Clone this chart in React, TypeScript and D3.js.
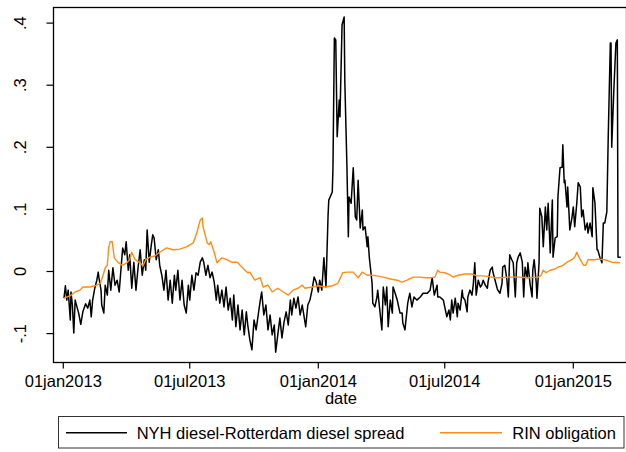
import React from "react";
import * as d3 from "d3";

// Days since 01jan2013 and values
const spreadDays = [1,3,5,7,10,11,13,15,17,20,22,25,28,32,35,38,40,42,45,48,50,51,54,55,58,60,63,65,68,71,74,77,80,83,85,88,90,93,95,98,101,104,107,110,113,116,118,120,123,126,128,130,133,136,138,141,144,147,150,153,156,159,161,164,167,170,173,176,179,181,184,187,190,193,196,199,201,204,207,210,213,216,219,221,224,227,230,233,236,239,242,244,247,250,253,256,259,262,264,267,270,273,276,279,282,284,287,290,293,296,299,302,304,307,310,313,316,319,322,325,327,330,333,336,339,342,345,347,350,353,356,359,362,365,367,370,373,376,379,380,385,386,388,390,392,395,396,399,402,403,406,408,409,412,415,418,420,422,425,428,429,432,435,436,438,442,443,446,449,450,453,456,458,461,463,465,468,471,472,475,478,482,485,486,489,492,493,496,499,502,506,511,515,521,525,528,531,535,536,539,544,546,549,552,554,556,558,561,564,565,568,571,572,575,578,579,582,585,587,589,591,594,597,599,601,604,607,608,611,614,615,618,621,622,625,628,629,632,635,637,639,642,644,647,649,651,654,657,659,661,664,665,668,671,672,674,677,678,681,682,685,687,690,692,694,697,700,701,704,707,708,711,714,715,717,718,721,722,725,728,730,732,735,737,740,742,744,747,750,751,754,757,758,761,764,765,768,771,773,775,778,780,783,784,785,788,791,793,794,798];
const spreadVals = [-0.043,-0.023,-0.046,-0.030,-0.078,-0.033,-0.054,-0.099,-0.046,-0.059,-0.067,-0.085,-0.065,-0.052,-0.059,-0.046,-0.073,-0.046,-0.027,-0.014,-0.001,-0.010,-0.030,-0.054,-0.067,-0.022,-0.038,0.002,-0.030,0.006,-0.022,-0.014,-0.033,0.010,0.038,0.027,0.048,0.002,0.027,-0.027,0.015,-0.030,0.006,0.035,-0.006,0.019,0.002,0.067,0.015,0.043,0.059,0.054,0.019,0.035,0.010,-0.006,-0.030,0.002,-0.046,-0.014,-0.051,-0.006,-0.030,0.002,-0.046,-0.014,-0.054,-0.067,-0.022,-0.046,-0.006,-0.030,-0.002,-0.006,0.015,0.022,0.015,-0.006,0.010,-0.010,-0.001,-0.017,-0.046,-0.022,-0.051,-0.030,-0.057,-0.025,-0.062,-0.043,-0.078,-0.038,-0.089,-0.054,-0.094,-0.062,-0.102,-0.065,-0.086,-0.110,-0.126,-0.078,-0.094,-0.070,-0.046,-0.033,-0.070,-0.054,-0.094,-0.070,-0.102,-0.086,-0.130,-0.102,-0.075,-0.107,-0.081,-0.065,-0.086,-0.046,-0.070,-0.043,-0.059,-0.041,-0.070,-0.054,-0.075,-0.089,-0.054,-0.046,-0.030,-0.009,-0.017,-0.033,-0.014,-0.030,0.022,-0.025,0.091,0.115,0.128,0.168,0.376,0.373,0.217,0.276,0.249,0.397,0.410,0.304,0.168,0.056,0.120,0.110,0.167,0.088,0.083,0.147,0.070,0.099,0.067,0.072,0.040,0.056,0.023,-0.019,-0.051,-0.057,-0.041,-0.030,-0.062,-0.094,-0.025,-0.054,-0.025,-0.089,-0.046,-0.067,-0.025,-0.035,-0.046,-0.067,-0.067,-0.083,-0.094,-0.062,-0.051,-0.035,-0.057,-0.041,-0.046,-0.041,-0.035,-0.035,-0.030,-0.010,-0.038,-0.022,-0.041,-0.041,-0.046,-0.057,-0.073,-0.062,-0.078,-0.046,-0.067,-0.043,-0.073,-0.051,-0.062,-0.030,-0.041,-0.046,-0.065,-0.041,-0.030,-0.038,-0.019,0.014,-0.038,-0.014,-0.025,-0.022,-0.014,-0.022,-0.027,-0.017,0.002,0.007,-0.001,-0.014,-0.027,-0.030,-0.035,-0.019,0.007,0.010,-0.014,-0.041,0.027,0.019,0.014,-0.041,0.014,0.023,0.030,0.015,-0.041,0.007,-0.010,0.014,-0.019,-0.041,0.002,0.019,-0.019,-0.043,0.014,0.102,0.088,0.040,0.104,0.067,0.110,0.030,0.115,0.023,0.054,0.056,0.120,0.167,0.168,0.204,0.143,0.147,0.104,0.136,0.067,0.086,0.104,0.072,0.110,0.143,0.136,0.088,0.099,0.067,0.078,0.062,0.078,0.056,0.135,0.110,0.035,0.035,0.023,0.014,0.078,0.078,0.096,0.217,0.368,0.368,0.200,0.292,0.368,0.373,0.023,0.023];

const rinDays = [1,10,17,24,28,38,45,53,57,60,63,65,67,70,73,78,84,91,95,98,103,110,114,118,124,131,138,148,157,167,177,186,191,196,199,200,206,209,211,216,220,227,234,241,249,256,260,264,267,274,282,286,293,299,307,315,322,329,336,342,346,356,365,375,385,393,398,400,406,415,422,428,435,442,449,458,468,478,485,492,501,511,518,525,532,536,539,546,554,558,565,575,585,592,601,614,618,628,637,651,665,680,684,687,691,697,704,708,714,721,728,732,735,738,742,745,748,751,757,761,765,775,785,797];
const rinVals = [-0.043,-0.039,-0.033,-0.030,-0.025,-0.025,-0.023,-0.019,-0.006,0.006,0.010,0.038,0.048,0.048,0.022,0.015,0.010,0.014,0.019,0.031,0.019,0.014,0.009,0.019,0.023,0.025,0.031,0.038,0.035,0.036,0.040,0.046,0.062,0.083,0.086,0.072,0.046,0.043,0.048,0.031,0.014,0.022,0.019,0.015,0.015,0.007,0.002,-0.002,-0.001,-0.014,-0.010,-0.025,-0.022,-0.033,-0.027,-0.033,-0.038,-0.030,-0.027,-0.022,-0.027,-0.025,-0.023,-0.025,-0.023,-0.019,-0.007,-0.002,-0.001,-0.001,-0.010,-0.001,-0.006,-0.006,-0.007,-0.009,-0.012,-0.014,-0.017,-0.014,-0.009,-0.009,-0.010,-0.010,-0.009,0.002,-0.001,-0.002,-0.006,-0.009,-0.006,-0.004,-0.004,-0.007,-0.007,-0.009,-0.010,-0.010,-0.009,-0.009,-0.010,-0.009,-0.006,0.002,-0.002,0.002,0.004,0.007,0.009,0.015,0.019,0.023,0.031,0.023,0.015,0.010,0.010,0.019,0.019,0.019,0.020,0.019,0.015,0.014];

const xTickDates = ["2013-01-01", "2013-07-01", "2014-01-01", "2014-07-01", "2015-01-01"];
const xTickLabels = ["01jan2013", "01jul2013", "01jan2014", "01jul2014", "01jan2015"];
const yTicks = [-0.1, 0, 0.1, 0.2, 0.3, 0.4];
const yTickLabels = ["-.1", "0", ".1", ".2", ".3", ".4"];
const seriesNames = ["NYH diesel-Rotterdam diesel spread", "RIN obligation"];

const W = 626, H = 452;
const FONT = "'Liberation Sans', Arial, Helvetica, sans-serif";
const ORANGE = "#ff8c17";

export default function App() {
  const base = new Date(Date.UTC(2013, 0, 1));
  const toDate = (d: number) => d3.utcDay.offset(base, d);
  const x = d3.scaleUtc()
    .domain([new Date(Date.UTC(2013, 0, 1)), new Date(Date.UTC(2015, 0, 1))])
    .range([63.3, 573.3]);
  const y = d3.scaleLinear().domain([0, 0.4]).range([271.5, 23.1]);

  const spread = spreadDays.map((d, i) => ({ t: toDate(d), v: spreadVals[i] }));
  const rin = rinDays.map((d, i) => ({ t: toDate(d), v: rinVals[i] }));
  const line = d3.line<{ t: Date; v: number }>().x(p => x(p.t)).y(p => y(p.v));

  const left = 53.5, top = 7.5, bottom = 362.5, right = 626.5;

  return (
    <svg width={W} height={H} style={{ position: "absolute", left: 0, top: 0, background: "#fff" }} fontFamily={FONT}>
      <rect x={0} y={0} width={W} height={H} fill="#fff" />
      <rect x={left} y={top} width={right - left} height={bottom - top} fill="none" stroke="#000" strokeWidth={1.3} />
      {yTicks.map((t, i) => (
        <g key={"y" + i}>
          <line x1={left - 7} x2={left} y1={y(t)} y2={y(t)} stroke="#000" strokeWidth={1.2} />
          <text transform={`translate(26,${y(t)}) rotate(-90)`} textAnchor="middle" fontSize={16.5} fill="#000">{yTickLabels[i]}</text>
        </g>
      ))}
      {xTickDates.map((s, i) => {
        const [yy, mm, dd] = s.split("-").map(Number);
        const px = x(new Date(Date.UTC(yy, mm - 1, dd)));
        return (
          <g key={"x" + i}>
            <line x1={px} x2={px} y1={bottom} y2={bottom + 6} stroke="#000" strokeWidth={1.2} />
            <text x={px} y={387} textAnchor="middle" fontSize={16.5} fill="#000">{xTickLabels[i]}</text>
          </g>
        );
      })}
      <text x={341} y={404} textAnchor="middle" fontSize={16.5} fill="#000">date</text>
      <path d={line(spread) || ""} fill="none" stroke="#000" strokeWidth={1.5} strokeLinejoin="round" />
      <path d={line(rin) || ""} fill="none" stroke={ORANGE} strokeWidth={1.4} strokeLinejoin="round" />
      <rect x={58.5} y={416.5} width={565.5} height={31.5} fill="#fff" stroke="#333" strokeWidth={1} />
      <line x1={66} x2={127} y1={432.7} y2={432.7} stroke="#000" strokeWidth={1.4} />
      <text x={136.7} y={438.5} fontSize={16.5} fill="#000">{seriesNames[0]}</text>
      <line x1={440} x2={502} y1={432.7} y2={432.7} stroke={ORANGE} strokeWidth={1.4} />
      <text x={512.3} y={438.5} fontSize={16.5} fill="#000">{seriesNames[1]}</text>
    </svg>
  );
}
